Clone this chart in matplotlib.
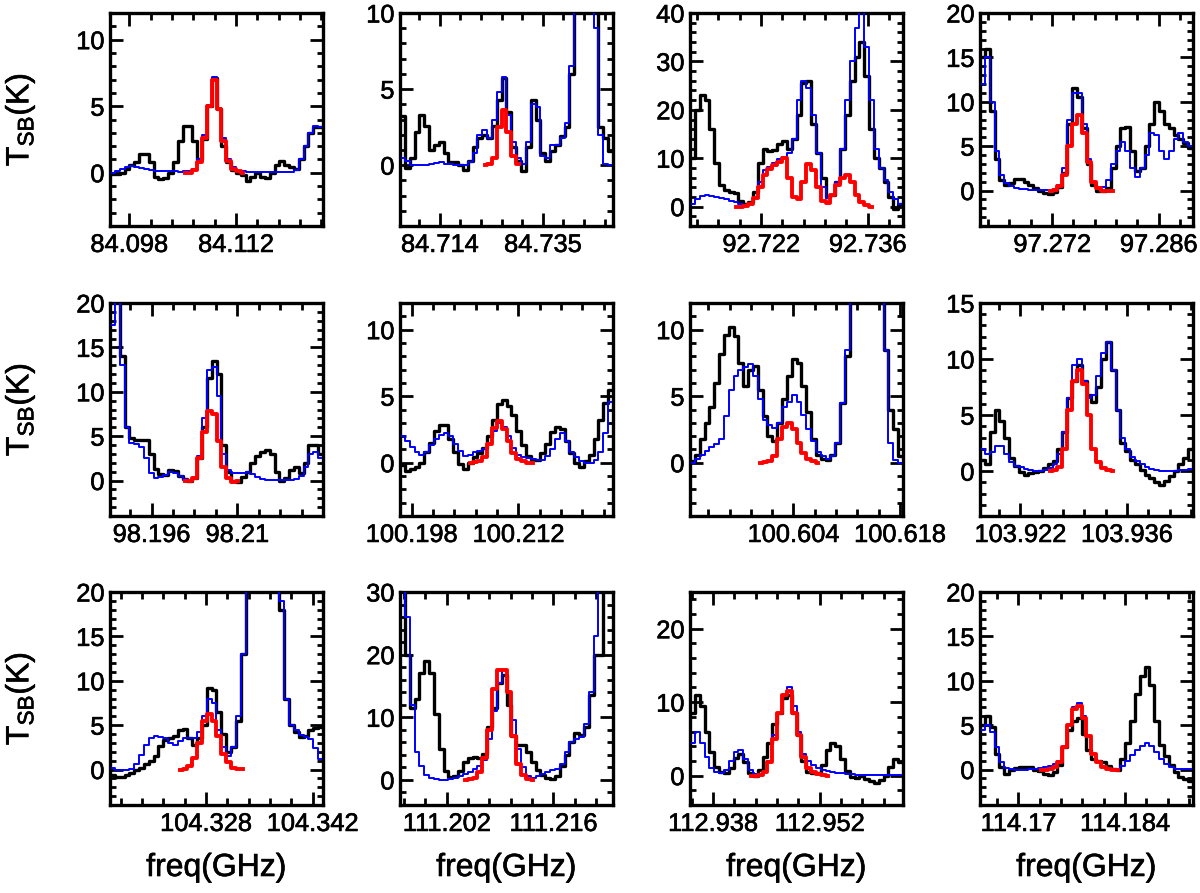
import numpy as np
import matplotlib
matplotlib.use("Agg")
import matplotlib.pyplot as plt
import matplotlib.patheffects as pe
from matplotlib.ticker import MultipleLocator, FixedLocator

plt.rcParams['font.family'] = ['Liberation Sans', 'DejaVu Sans']
plt.rcParams['mathtext.default'] = 'regular'

# spectral windows (GHz), 44 channels each
p1_win = (84.09547, 84.12343)
p1_black = [-0.1, -0.1, 0.0, 0.3, 0.6, 0.8, 1.4, 1.4, 0.8, -0.3, -0.5, -0.4, 0.0, 0.8, 2.4, 3.5,
            3.5, 2.4, 1.0, 2.5, 5.0, 7.1, 4.8, 2.0, 0.8, 0.2, 0.0, -0.2, -0.6, -0.3, 0.0, -0.3,
            -0.4, 0.0, 0.6, 0.9, 0.6, 0.4, 0.3, 1.0, 2.0, 3.0, 3.4, 3.4]
p1_blue = [0.0, 0.1, 0.3, 0.45, 0.5, 0.45, 0.35, 0.3, 0.2, 0.15, 0.1, 0.1, 0.1, 0.1, 0.05, 0.1,
           0.15, 0.3, 1.0, 2.8, 5.1, 7.2, 4.9, 2.6, 1.0, 0.4, 0.1, 0.1, 0.05, 0.05, 0.05, 0.05,
           0.05, 0.05, 0.05, 0.05, 0.05, 0.05, 0.2, 1.0, 2.0, 3.0, 3.5, 3.4]
p1_red_start = 15
p1_red = [0.0, 0.0, 0.2, 0.8, 2.6, 5.0, 7.0, 4.8, 2.4, 0.9, 0.3, 0.1, 0.0]

p2_win = (84.7059, 84.7493)
p2_black = [3.2, -0.2, 0.5, 2.2, 3.3, 2.6, 1.0, 1.3, 1.5, 0.8, 0.2, 0.2, 0.0, -0.3, 0.3, 1.2,
            1.8, 2.0, 1.8, 2.6, 4.3, 5.7, 3.5, 1.2, 0.3, -0.4, 1.2, 4.3, 3.0, 0.8, 0.3, 0.9,
            1.3, 1.9, 2.5, 6.0, 12.0, 16.0, 18.0, 16.0, 12.0, 2.5, 1.8, 0.9]
p2_blue = [0.5, 0.3, 0.0, 0.0, 0.0, 0.0, 0.05, 0.15, 0.2, 0.1, 0.05, 0.0, 0.0, 0.0, 0.2, 0.8,
           2.0, 2.3, 1.8, 3.0, 4.8, 5.8, 3.3, 1.5, 0.5, 0.1, 1.5, 4.0, 3.8, 0.6, 0.5, 1.3,
           1.3, 1.8, 2.8, 6.5, 12.0, 16.0, 18.0, 16.0, 9.0, 2.0, 0.1, 0.0]
p2_red_start = 17
p2_red = [0.0, 0.1, 0.5, 2.5, 3.6, 2.2, 0.6, 0.1]

p3_win = (92.71268, 92.74064)
p3_black = [10, 20, 23, 22, 16, 9, 4.5, 3.5, 3.0, 2.8, 1.2, 0.6, 1.0, 3.0, 9.0, 12.0,
            11.5, 11.8, 13.0, 13.5, 12.0, 14.0, 19.0, 25.5, 26.0, 17.0, 11.0, 6.0, 2.0, 2.5, 5.0, 12.0,
            19.0, 26.0, 31.0, 34.0, 27.0, 16.0, 10.0, 8.0, 5.0, 2.0, -0.5, 0.5]
p3_blue = [0.5, 1.5, 2.2, 2.5, 2.3, 2.0, 1.7, 1.5, 1.2, 0.9, 0.6, 0.4, 0.6, 2.0, 5.0, 7.5,
           8.2, 9.0, 9.8, 10.3, 11.0, 14.0, 22.0, 26.0, 24.5, 19.0, 11.0, 4.0, 1.8, 2.5, 5.0, 12.0,
           22.0, 30.0, 37.0, 41.0, 33.0, 22.0, 12.0, 8.0, 5.5, 3.0, 1.5, 0.5]
p3_red_start = 9
p3_red = [0.0, 0.0, 0.2, 0.6, 1.8, 4.0, 6.5, 7.8, 8.5, 9.2, 10.0, 6.0, 2.0, 1.5, 5.0, 8.8,
          7.5, 4.0, 1.2, 0.8, 2.5, 4.5, 6.0, 6.5, 5.0, 2.5, 1.0, 0.3, 0.0]

p4_win = (97.26255, 97.29051)
p4_black = [15.0, 16.0, 9.0, 3.5, 1.2, 0.6, 0.9, 1.3, 1.3, 1.0, 0.6, 0.3, 0.0, -0.3, -0.4, -0.2,
            0.4, 2.0, 7.5, 11.5, 10.5, 7.0, 3.0, 0.6, -0.1, 0.0, 0.3, 2.5, 5.0, 7.0, 7.2, 4.5,
            2.2, 2.5, 5.0, 7.5, 10.0, 9.0, 7.5, 7.0, 6.2, 5.8, 5.3, 4.8]
p4_blue = [12.0, 15.0, 10.0, 4.5, 1.8, 0.8, 0.5, 0.3, 0.2, 0.15, 0.1, 0.1, 0.1, 0.1, 0.1, 0.2,
           0.6, 2.5, 8.0, 11.0, 11.0, 7.5, 3.5, 1.0, 0.3, 0.4, 1.2, 3.0, 4.5, 5.5, 4.5, 2.5,
           1.5, 2.5, 4.0, 6.5, 6.2, 4.5, 3.5, 4.5, 5.8, 6.5, 5.5, 5.0]
p4_red_start = 14
p4_red = [0.0, 0.1, 0.5, 1.8, 5.0, 7.5, 8.5, 6.5, 3.2, 1.0, 0.3, 0.0, 0.0, 0.0]

p5_win = (98.1892, 98.2240)
p5_black = [30, 30, 14, 6.0, 4.8, 4.6, 4.6, 4.6, 3.0, 1.3, 0.7, 0.6, 1.2, 1.1, 0.5, 0.2,
            0.0, 0.3, 2.5, 6.0, 11.5, 13.5, 12.0, 4.0, 1.0, 0.0, -0.2, 0.4, 1.0, 2.0, 2.8, 3.2,
            3.4, 3.0, 1.0, 0.0, 0.3, 1.2, 1.5, 0.9, 2.0, 4.0, 4.0, 3.0]
p5_blue = [17.5, 22, 13, 6.0, 4.2, 4.1, 3.8, 2.5, 0.8, 0.3, 0.4, 0.6, 1.0, 0.9, 0.5, 0.2,
           0.0, 0.2, 2.8, 7.0, 12.5, 12.8, 9.5, 3.0, 1.2, 0.8, 0.8, 0.9, 1.0, 0.7, 0.4, 0.2,
           0.1, 0.1, 0.1, 0.1, 0.1, 0.1, 0.2, 0.5, 1.5, 3.0, 3.2, 2.5]
p5_red_start = 15
p5_red = [0.0, 0.0, 0.3, 2.5, 5.5, 7.8, 7.5, 4.5, 1.5, 0.3, -0.2, 0.0]

p6_win = (100.19646, 100.22442)
p6_black = [-0.2, -0.6, -0.5, -0.3, 0.0, 0.8, 1.5, 2.4, 2.8, 2.8, 1.8, 0.8, -0.1, -0.5, 0.0, 0.4,
            0.7, 1.1, 2.0, 3.2, 4.4, 4.7, 4.3, 3.6, 2.4, 1.3, 0.5, 0.2, 0.2, 0.7, 1.4, 2.3,
            2.7, 2.5, 1.6, 0.7, 0.0, -0.3, 0.1, 0.6, 1.8, 3.2, 4.5, 5.5]
p6_blue = [2.0, 1.6, 1.2, 0.8, 0.6, 0.8, 1.3, 1.8, 2.1, 2.2, 2.0, 1.4, 0.9, 0.5, 0.6, 0.8,
           0.9, 1.0, 1.5, 2.4, 3.0, 2.7, 2.0, 1.1, 0.6, 0.4, 0.35, 0.3, 0.2, 0.2, 0.5, 1.0,
           1.8, 2.2, 1.6, 0.8, 0.4, 0.1, 0.0, 0.0, 0.2, 0.8, 2.2, 4.6]
p6_red_start = 14
p6_red = [0.0, 0.05, 0.15, 0.4, 1.4, 2.6, 3.1, 2.5, 1.6, 0.7, 0.3, 0.1, 0.0, 0.0]

p7_win = (100.5904, 100.6184)
p7_black = [0.1, 0.6, 1.8, 3.0, 4.2, 6.0, 8.2, 9.6, 10.2, 9.5, 7.5, 5.8, 7.0, 7.3, 5.5, 3.5,
            2.0, 1.6, 3.0, 4.8, 6.5, 7.8, 7.5, 5.8, 3.8, 1.8, 0.6, 0.3, 0.2, 0.6, 1.5, 4.5,
            8.0, 14, 20, 22, 22, 20, 15, 12, 8.5, 4.0, 2.5, 0.5]
p7_blue = [0.0, 0.3, 0.6, 0.9, 1.2, 1.4, 1.8, 3.5, 5.5, 6.5, 7.0, 7.2, 7.4, 6.5, 4.8, 3.2,
           2.8, 2.6, 3.0, 4.2, 4.6, 5.1, 4.6, 3.6, 2.5, 1.6, 0.8, 0.5, 0.3, 0.5, 1.5, 4.5,
           8.5, 15, 22, 26, 26, 22, 16, 13, 8.5, 1.5, 0.2, 0.0]
p7_red_start = 14
p7_red = [0.0, 0.05, 0.1, 0.5, 1.8, 2.7, 3.0, 2.5, 1.5, 0.7, 0.3, 0.1, 0.0]

p8_win = (103.91671, 103.94467)
p8_black = [1.0, 0.6, 3.5, 5.5, 4.5, 3.0, 1.2, 0.5, -0.1, -0.3, -0.2, -0.1, 0.0, 0.3, 0.6, 0.9,
            2.0, 3.5, 6.5, 8.0, 9.5, 8.0, 6.8, 6.2, 7.5, 10.0, 11.5, 9.0, 5.5, 2.5, 1.8, 1.0,
            0.6, 0.1, -0.3, -0.6, -1.0, -1.2, -0.9, -0.4, 0.0, 0.6, 1.2, 2.0]
p8_blue = [2.0, 1.5, 1.7, 2.2, 2.2, 1.5, 0.8, 0.5, 0.35, 0.2, 0.1, 0.05, 0.0, 0.1, 0.3, 0.6,
           1.5, 3.5, 6.5, 9.5, 10.0, 8.0, 6.5, 6.8, 8.5, 10.5, 11.5, 9.0, 5.5, 3.0, 2.0, 1.3,
           0.9, 0.6, 0.35, 0.2, 0.1, 0.05, 0.0, 0.0, 0.05, 0.1, 0.1, 0.15]
p8_red_start = 14
p8_red = [0.0, 0.1, 0.4, 2.0, 5.5, 8.0, 9.0, 7.8, 5.0, 2.0, 0.8, 0.3, 0.1, 0.0]

p9_win = (104.31541, 104.34337)
p9_black = [-0.6, -0.8, -0.8, -0.6, -0.4, -0.1, 0.2, 0.6, 1.0, 1.5, 2.6, 3.3, 3.5, 3.8, 4.5, 4.6,
            3.6, 2.8, 3.5, 5.0, 9.2, 9.0, 6.5, 4.0, 2.0, 2.5, 5.5, 13.0, 22, 30, 35, 35,
            33, 28, 24, 18, 8.0, 5.0, 4.2, 3.7, 3.8, 4.4, 4.7, 4.8]
p9_blue = [0.2, -0.1, -0.1, -0.1, 0.1, 0.6, 1.6, 2.8, 3.5, 3.8, 3.7, 3.5, 3.0, 2.8, 3.2, 3.6,
           3.5, 3.5, 4.2, 6.0, 8.0, 7.5, 4.5, 2.5, 1.5, 2.5, 6.0, 13.0, 22, 30, 36, 37,
           35, 30, 25, 19, 8.0, 5.0, 4.4, 3.9, 3.7, 3.4, 2.4, 1.2]
p9_red_start = 14
p9_red = [0.0, 0.05, 0.4, 1.3, 3.0, 5.5, 6.2, 5.5, 3.8, 1.8, 0.8, 0.2, 0.1, 0.1]

p10_win = (111.19587, 111.22383)
p10_black = [35, 20, 11.5, 13.0, 17.0, 19.0, 17.0, 10.5, 5.0, 1.5, 0.5, 0.7, 1.5, 2.8, 3.5, 3.7,
             3.5, 4.2, 8.5, 11.5, 15.5, 16.8, 12.0, 7.0, 5.6, 5.5, 4.5, 2.8, 1.6, 0.8, 0.3, 0.1,
             0.6, 2.2, 4.0, 6.0, 7.5, 7.2, 8.5, 13.5, 20.0, 20.0, 32, 35]
p10_blue = [40, 26, 12, 4.5, 2.2, 0.8, 0.3, 0.1, 0.0, 0.0, 0.1, 0.3, 0.6, 1.0, 1.3, 1.7,
            2.2, 3.2, 6.5, 11.0, 15.5, 17.5, 14.0, 9.5, 5.0, 2.0, 0.6, 0.3, 0.6, 1.0, 1.3, 1.6,
            1.8, 2.5, 4.5, 6.0, 6.6, 6.8, 9.0, 14.0, 23.0, 32, 40, 40]
p10_red_start = 13
p10_red = [0.0, 0.1, 0.3, 1.2, 3.5, 8.0, 14.5, 17.5, 17.5, 14.0, 7.0, 2.5, 0.8, 0.2, 0.0]

p11_win = (112.93498, 112.96294)
p11_black = [8.5, 11.0, 9.5, 6.0, 3.2, 1.2, 0.5, 0.4, 1.0, 2.4, 3.0, 1.8, 0.3, 0.0, 0.8, 2.5,
             4.5, 7.0, 8.5, 10.5, 11.0, 8.5, 5.5, 2.0, 0.5, 0.3, 0.4, 1.5, 3.5, 4.5, 4.0, 2.2,
             0.6, -0.2, -0.3, 0.0, -0.4, -0.7, -1.0, -0.6, 0.0, 1.2, 2.3, 1.8]
p11_blue = [4.5, 6.0, 4.5, 2.5, 1.0, 0.5, 0.3, 0.8, 2.0, 3.2, 3.5, 2.2, 0.8, 0.2, 0.1, 0.6,
            2.0, 5.5, 8.5, 11.0, 12.0, 9.5, 6.0, 3.0, 2.0, 1.5, 1.0, 0.8, 0.6, 0.5, 0.4, 0.3,
            0.2, 0.2, 0.1, 0.1, 0.1, 0.1, 0.1, 0.1, 0.1, 0.1, 0.1, 0.1]
p11_red_start = 12
p11_red = [0.0, 0.0, 0.1, 0.5, 1.8, 5.0, 8.5, 11.0, 11.5, 8.5, 5.5, 2.5, 1.0, 0.5, 0.2, 0.1, 0.0]

p12_win = (114.16496, 114.19292)
p12_black = [5.0, 6.0, 4.8, 1.8, 0.3, -0.5, -0.1, 0.2, 0.3, 0.3, 0.3, 0.0, -0.2, -0.5, -0.6, -0.3,
             0.5, 2.5, 4.5, 5.5, 5.8, 4.0, 2.2, 1.2, 1.0, 0.8, 0.4, 0.1, 0.0, 1.2, 3.0, 5.5,
             8.5, 10.5, 11.5, 9.5, 5.5, 2.8, 1.5, 0.5, -0.3, -0.8, -1.1, -1.3]
p12_blue = [4.5, 5.0, 4.2, 2.5, 0.8, 0.2, 0.05, 0.0, 0.0, 0.0, 0.05, 0.1, 0.2, 0.3, 0.4, 0.6,
            1.0, 2.5, 5.0, 7.0, 7.5, 6.0, 3.8, 1.8, 0.8, 0.3, 0.1, 0.1, 0.1, 0.4, 1.0, 1.6,
            2.2, 2.7, 3.0, 2.7, 2.0, 1.2, 0.6, 0.3, 0.1, 0.1, 0.1, 0.1]
p12_red_start = 12
p12_red = [0.0, 0.0, 0.1, 0.3, 0.8, 2.5, 5.0, 6.8, 7.2, 5.8, 3.8, 1.8, 0.8, 0.3, 0.1, 0.0, 0.0]

# labelled frequencies
tick_vals = [[84.098, 84.112], [84.714, 84.735], [92.722, 92.736], [97.272, 97.286],
             [98.196, 98.210], [100.198, 100.212], [100.604, 100.618], [103.922, 103.936],
             [104.328, 104.342], [111.202, 111.216], [112.938, 112.952], [114.170, 114.184]]
tick_text = [["84.098", "84.112"], ["84.714", "84.735"], ["92.722", "92.736"], ["97.272", "97.286"],
             ["98.196", "98.21"], ["100.198", "100.212"], ["100.604", "100.618"], ["103.922", "103.936"],
             ["104.328", "104.342"], ["111.202", "111.216"], ["112.938", "112.952"], ["114.17", "114.184"]]

wins = [p1_win, p2_win, p3_win, p4_win, p5_win, p6_win, p7_win, p8_win, p9_win, p10_win, p11_win, p12_win]
blacks = [p1_black, p2_black, p3_black, p4_black, p5_black, p6_black, p7_black, p8_black,
          p9_black, p10_black, p11_black, p12_black]
blues = [p1_blue, p2_blue, p3_blue, p4_blue, p5_blue, p6_blue, p7_blue, p8_blue,
         p9_blue, p10_blue, p11_blue, p12_blue]
reds = [p1_red, p2_red, p3_red, p4_red, p5_red, p6_red, p7_red, p8_red, p9_red, p10_red, p11_red, p12_red]
red_starts = [p1_red_start, p2_red_start, p3_red_start, p4_red_start, p5_red_start, p6_red_start,
              p7_red_start, p8_red_start, p9_red_start, p10_red_start, p11_red_start, p12_red_start]

# axes settings: ylim, major / minor y step, minor x step
ylims = [(-4, 12), (-4, 10), (-4, 40), (-4, 20), (-4, 20), (-4, 12), (-4, 12), (-4, 15),
         (-4, 20), (-4, 30), (-4, 25), (-4, 20)]
ymaj = [5, 5, 10, 5, 5, 5, 5, 5, 5, 10, 10, 5]
ymin = [1, 1, 2, 1, 1, 1, 1, 1, 1, 2, 2, 1]
xmin_step = [0.0028, 0.0042, 0.0028, 0.0028, 0.0035, 0.0028, 0.0028, 0.0028, 0.0028, 0.0028, 0.0028, 0.0028]

W, H = 1200, 893
fig = plt.figure(figsize=(W / 100, H / 100), dpi=100)
col_left = [110, 400, 690, 980]
row_top = [13, 303, 592]
pw, ph = 213, 213
thick = [pe.withStroke(linewidth=0.45, foreground='black')]

for k in range(12):
    r, c = divmod(k, 4)
    ax = fig.add_axes([col_left[c] / W, 1 - (row_top[r] + ph) / H, pw / W, ph / H])
    lo, hi = wins[k]
    n = len(blacks[k])
    freq = lo + (np.arange(n) + 0.5) * (hi - lo) / n
    ax.step(freq, blacks[k], where='mid', color='black', lw=2.4, zorder=2)
    ax.step(freq, blues[k], where='mid', color='#0000ff', lw=1.4, zorder=3)
    s = red_starts[k]
    ax.step(freq[s:s + len(reds[k])], reds[k], where='mid', color='#ff0000', lw=2.8, zorder=4)
    ax.set_xlim(lo, hi)
    ax.set_ylim(*ylims[k])
    ax.xaxis.set_major_locator(FixedLocator(tick_vals[k]))
    ax.set_xticklabels(tick_text[k])
    ax.xaxis.set_minor_locator(MultipleLocator(xmin_step[k]))
    ax.yaxis.set_major_locator(MultipleLocator(ymaj[k]))
    ax.yaxis.set_minor_locator(MultipleLocator(ymin[k]))
    ax.tick_params(which='both', direction='in', top=True, right=True, width=2.0, labelsize=18.3)
    ax.tick_params(axis='x', which='major', length=9.4, pad=5)
    ax.tick_params(axis='x', which='minor', length=5)
    ax.tick_params(axis='y', which='major', length=9.4, pad=4)
    ax.tick_params(axis='y', which='minor', length=4.5)
    for lab in ax.get_xticklabels() + ax.get_yticklabels():
        lab.set_path_effects(thick)
    for sp in ax.spines.values():
        sp.set_linewidth(2.4)
    if c == 0:
        fig.text(0.017, 1 - (row_top[r] + ph / 2) / H, 'T$_{SB}$(K)', rotation=90,
                 ha='center', va='center', fontsize=23, path_effects=thick)
    if r == 2:
        fig.text((col_left[c] + pw / 2) / W, 1 - 868 / H, 'freq(GHz)',
                 ha='center', va='center', fontsize=23, path_effects=thick)

fig.savefig('out.png', dpi=100)
